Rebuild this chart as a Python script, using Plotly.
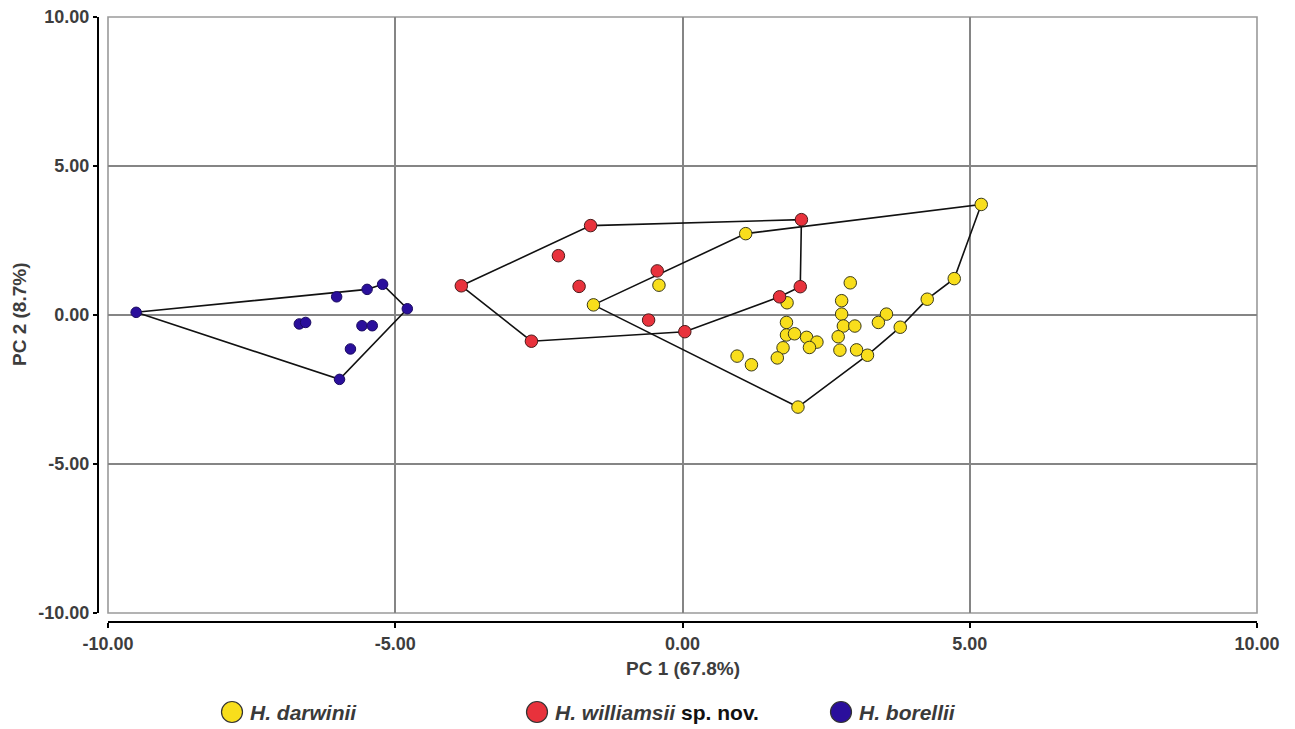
import plotly.graph_objects as go

# ---- data ----
darwinii_x = [5.20, 1.10, 4.73, 4.26, 3.79, 3.55, 3.41, 3.22, 3.03, 2.92, 2.77, 2.77, 2.80, 3.00,
              2.71, 2.74, 2.01, 1.82, 1.81, 1.81, 1.95, 2.16, 2.34, 2.21, 1.75, 1.65, 0.95, 1.20,
              -1.55, -0.41]
darwinii_y = [3.71, 2.73, 1.22, 0.53, -0.41, 0.03, -0.25, -1.35, -1.17, 1.08, 0.48, 0.03, -0.37, -0.37,
              -0.73, -1.18, -3.09, 0.41, -0.25, -0.67, -0.63, -0.75, -0.91, -1.09, -1.10, -1.44, -1.38, -1.67,
              0.34, 1.00]
darwinii_hull = [28, 1, 0, 2, 3, 4, 7, 16, 28]

williamsii_x = [-3.85, -1.60, 2.07, 2.05, 1.69, 0.04, -2.63, -2.16, -1.80, -0.44, -0.59]
williamsii_y = [0.98, 3.00, 3.20, 0.95, 0.61, -0.56, -0.88, 1.99, 0.96, 1.48, -0.17]
williamsii_hull = [0, 1, 2, 3, 4, 5, 6, 0]

borellii_x = [-9.51, -5.49, -5.22, -4.79, -6.02, -6.67, -6.56, -5.58, -5.40, -5.78, -5.97]
borellii_y = [0.09, 0.86, 1.03, 0.21, 0.61, -0.30, -0.25, -0.36, -0.36, -1.14, -2.16]
borellii_hull = [0, 1, 2, 3, 10, 0]

tick_vals = [-10, -5, 0, 5, 10]
tick_text = ["-10.00", "-5.00", "0.00", "5.00", "10.00"]

x_title = "PC 1 (67.8%)"
y_title = "PC 2 (8.7%)"

legend_labels = [
    "<b><i>H. darwinii</i></b>",
    "<b><i>H. williamsii</i></b><b style='color:#111'> sp. nov.</b>",
    "<b><i>H. borellii</i></b>",
]
colors = ["#F8DE1C", "#E8323C", "#2A0F9C"]
edges = ["#3a3a1a", "#4a1a1a", "#1a0a60"]
sizes = [12.5, 12.5, 10.5]
series_x = [darwinii_x, williamsii_x, borellii_x]
series_y = [darwinii_y, williamsii_y, borellii_y]
hulls = [darwinii_hull, williamsii_hull, borellii_hull]

W, H = 1295, 729
OFF = 8  # page body margin


def xp(px):
    return (px - OFF) / W


def yp(py):
    return (H - (py - OFF)) / H


fig = go.Figure()

# hull lines first
for xs, ys, hull in zip(series_x, series_y, hulls):
    fig.add_trace(go.Scatter(
        x=[xs[i] for i in hull], y=[ys[i] for i in hull], mode="lines",
        line=dict(color="#111111", width=1.6), showlegend=False, hoverinfo="skip"))

for name, xs, ys, col, edge, sz in zip(legend_labels, series_x, series_y, colors, edges, sizes):
    fig.add_trace(go.Scatter(
        x=xs, y=ys, mode="markers", name=name, showlegend=False,
        marker=dict(size=sz, color=col, line=dict(color=edge, width=1))))

x0p, x1p = xp(108), xp(1257)
y0p, y1p = yp(613), yp(17)

# custom legend (symbols as circles, labels as text)
leg_marker_px = [232, 537, 841]
leg_y = 712
leg_r = 10.5
shapes = [dict(type="rect", xref="paper", yref="paper", x0=x0p, x1=x1p, y0=y0p, y1=y1p,
               line=dict(color="#9a9a9a", width=1.6), layer="below")]
annotations = [
    dict(text="<b>%s</b>" % x_title, xref="paper", yref="paper", x=xp(683), y=yp(668),
         xanchor="center", yanchor="middle", showarrow=False,
         font=dict(size=19, color="#3d3d3d")),
    dict(text="<b>%s</b>" % y_title, xref="paper", yref="paper", x=xp(19), y=yp(315),
         xanchor="center", yanchor="middle", showarrow=False, textangle=-90,
         font=dict(size=19, color="#3d3d3d")),
]
for mx, lab, col in zip(leg_marker_px, legend_labels, colors):
    shapes.append(dict(type="circle", xref="paper", yref="paper",
                       x0=xp(mx - leg_r), x1=xp(mx + leg_r),
                       y0=yp(leg_y + leg_r), y1=yp(leg_y - leg_r),
                       fillcolor=col, line=dict(color="#333333", width=1.2)))
    annotations.append(dict(text=lab, xref="paper", yref="paper", x=xp(mx + 16), y=yp(leg_y),
                            xanchor="left", yanchor="middle", showarrow=False,
                            font=dict(size=21, color="#3a3a3a")))

tick_font = dict(family="Liberation Sans, Arial, sans-serif", size=18, color="#3d3d3d")
fig.update_layout(
    width=W, height=H,
    margin=dict(l=0, r=0, t=0, b=0),
    paper_bgcolor="white", plot_bgcolor="white",
    font=dict(family="Liberation Sans, Arial, sans-serif"),
    showlegend=False,
    xaxis=dict(
        domain=[x0p, x1p], range=[-10, 10], anchor="free", position=yp(622),
        tickvals=tick_vals, ticktext=["<b>%s</b>" % t for t in tick_text],
        tickfont=tick_font, showline=True, linecolor="black", linewidth=2.2,
        ticks="outside", ticklen=5, tickwidth=2, tickcolor="black",
        showgrid=True, gridcolor="#858585", gridwidth=1.5,
        zeroline=True, zerolinecolor="#858585", zerolinewidth=1.5,
        automargin=False, ticklabeloverflow="allow",
    ),
    yaxis=dict(
        domain=[y0p, y1p], range=[-10, 10], anchor="free", position=xp(98),
        tickvals=tick_vals, ticktext=["<b>%s</b>" % t for t in tick_text],
        tickfont=tick_font, showline=True, linecolor="black", linewidth=2.2,
        ticks="outside", ticklen=4, tickwidth=2, tickcolor="black",
        showgrid=True, gridcolor="#858585", gridwidth=1.5,
        zeroline=True, zerolinecolor="#858585", zerolinewidth=1.5,
        automargin=False, ticklabeloverflow="allow",
    ),
    annotations=annotations,
    shapes=shapes,
)

fig.write_html("out.html")
